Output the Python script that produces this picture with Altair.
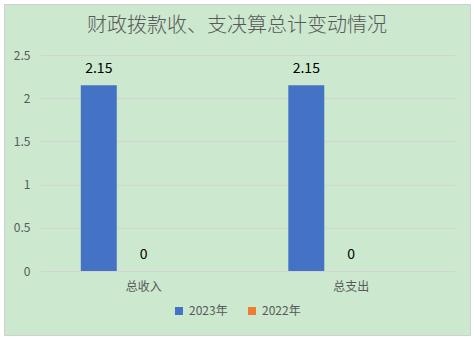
import altair as alt
import pandas as pd

title_text = "财政拨款收、支决算总计变动情况"
categories = ["总收入", "总支出"]
series = ["2023年", "2022年"]
values_2023 = [2.15, 2.15]
values_2022 = [0, 0]
y_ticks = [0, 0.5, 1, 1.5, 2, 2.5]

rows = []
for c, v in zip(categories, values_2023):
    rows.append({"cat": c, "series": "2023年", "value": v})
for c, v in zip(categories, values_2022):
    rows.append({"cat": c, "series": "2022年", "value": v})
df = pd.DataFrame(rows)

W, H = 415, 216
FONT = "Noto Sans CJK SC"
GRAY = "#595959"

one = pd.DataFrame({"t": [title_text]})
white_frame = alt.Chart(one).mark_rect(
    fill=None, filled=False, stroke="white", strokeWidth=8
).encode(
    x=alt.value(-40), x2=alt.value(434), y=alt.value(-55), y2=alt.value(284)
)
border = alt.Chart(one).mark_rect(
    fill=None, filled=False, stroke="#D0D0D0", strokeWidth=1
).encode(
    x=alt.value(-35.5), x2=alt.value(430.5), y=alt.value(-50.5), y2=alt.value(280.5)
)
title = alt.Chart(one).mark_text(
    font=FONT, fontSize=20, fontWeight=300, color=GRAY, baseline="middle", align="center"
).encode(
    x=alt.value(197), y=alt.value(-29), text="t:N"
)

x_enc = alt.X("cat:N", sort=categories,
              scale=alt.Scale(domain=categories, paddingInner=0.35, paddingOuter=0.175),
              axis=alt.Axis(title=None, labelAngle=0, labelFont=FONT, labelFontSize=12,
                            labelColor=GRAY, ticks=False, domainColor="#D4D4D4",
                            labelPadding=10, grid=False))
xoff = alt.XOffset("series:N",
                   scale=alt.Scale(domain=["2023年", "2022年", "_"], paddingInner=0.2, paddingOuter=0.1))
y_enc = alt.Y("value:Q", scale=alt.Scale(domain=[0, 2.5], nice=False),
              axis=alt.Axis(title=None, values=y_ticks,
                            labelExpr="datum.value == 0 ? '0' : format(datum.value, '.2~f')",
                            labelFont=FONT, labelFontSize=12, labelColor=GRAY,
                            ticks=False, domain=False, gridColor="#D4D4D4",
                            labelPadding=10))

bars = alt.Chart(df).mark_bar().encode(
    x=x_enc, xOffset=xoff, y=y_enc,
    color=alt.Color("series:N", sort=series,
                    scale=alt.Scale(domain=series, range=["#4472C4", "#ED7D31"]),
                    legend=alt.Legend(title=None, orient="none", direction="horizontal",
                                      legendX=133, legendY=250, symbolType="square",
                                      symbolSize=64, labelFont=FONT, labelFontSize=12,
                                      labelColor=GRAY, columnPadding=18))
)

labels = alt.Chart(df).mark_text(
    font=FONT, fontSize=14, color="#000000", baseline="alphabetic", dy=-12
).encode(
    x=alt.X("cat:N", sort=categories), xOffset=xoff,
    y=alt.Y("value:Q"),
    text=alt.Text("value:Q", format="~g")
)

chart = alt.layer(bars, labels, white_frame, border, title).properties(
    width=W, height=H,
    padding={"left": 40, "top": 55, "right": 19, "bottom": 68},
    autosize=alt.AutoSizeParams(type="none"),
    background="#CCE8CF"
).configure_view(stroke=None)

chart.save("out.html", embed_options={"renderer": "svg", "actions": False})
